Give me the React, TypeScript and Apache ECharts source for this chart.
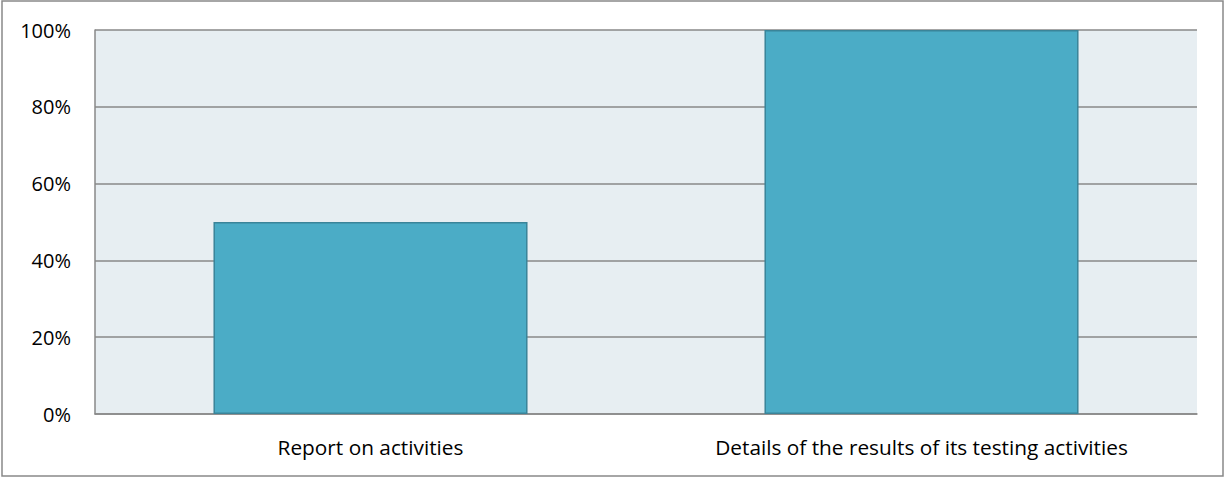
import React, { useEffect, useRef } from "react";
import * as echarts from "echarts";

const categories = ["Report on activities", "Details of the results of its testing activities"];
const values = [50, 100];
const yTicks = [0, 20, 40, 60, 80, 100];

export default function App() {
  const ref = useRef<HTMLDivElement>(null);
  useEffect(() => {
    const chart = echarts.init(ref.current!, null, { renderer: "svg" });
    chart.setOption({
      animation: false,
      graphic: [
        {
          type: "rect",
          shape: { x: 2, y: 1, width: 1221, height: 475 },
          style: { fill: "none", stroke: "#898989", lineWidth: 1.5 },
          silent: true,
        },
      ],
      grid: {
        left: 95,
        right: 1226 - 1197,
        top: 30,
        bottom: 477 - 414,
        show: true,
        backgroundColor: "#E7EEF2",
        borderWidth: 0,
      },
      xAxis: {
        type: "category",
        data: categories,
        axisLine: { show: true, lineStyle: { color: "#898989", width: 1.5 } },
        axisTick: { show: false },
        axisLabel: {
          color: "#000",
          fontFamily: "Open Sans",
          fontSize: 20.8,
          margin: 22,
        },
      },
      yAxis: {
        type: "value",
        min: 0,
        max: 100,
        interval: 20,
        axisLine: { show: true, lineStyle: { color: "#898989", width: 1.5 } },
        axisTick: { show: false },
        splitLine: { show: true, lineStyle: { color: "#898989", width: 1.5 } },
        axisLabel: {
          color: "#000",
          fontFamily: "Open Sans",
          fontSize: 20,
          margin: 24,
          formatter: (v: number) => (yTicks.includes(v) ? v + "%" : ""),
        },
      },
      series: [
        {
          type: "bar",
          data: values,
          barWidth: "57%",
          itemStyle: { color: "#4BACC6", borderColor: "#3A8499", borderWidth: 1.5 },
        },
      ],
    });
    return () => chart.dispose();
  }, []);
  return (
    <div
      ref={ref}
      style={{ position: "fixed", left: 0, top: 0, width: 1226, height: 477, background: "#fff" }}
    />
  );
}
